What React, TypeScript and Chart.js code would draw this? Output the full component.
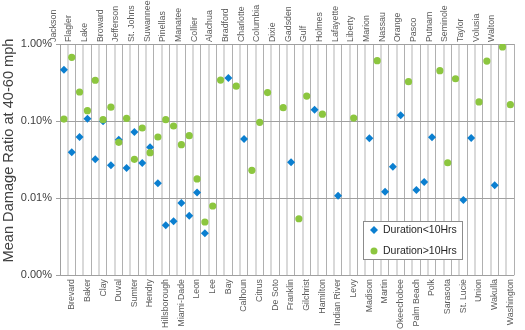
import React, { useEffect, useRef } from "react";
import { Chart, registerables } from "chart.js";

Chart.register(...registerables);

const counties = [
  "Jackson", "Brevard", "Flagler", "Baker", "Lake", "Clay", "Broward", "Duval",
  "Jefferson", "Sumter", "St. Johns", "Hendry", "Suwannee", "Hillsborough",
  "Pinellas", "Miami-Dade", "Manatee", "Leon", "Collier", "Lee", "Alachua", "Bay",
  "Bradford", "Calhoun", "Charlotte", "Citrus", "Columbia", "De Soto", "Dixie",
  "Franklin", "Gadsden", "Gilchrist", "Gulf", "Hamilton", "Holmes", "Indian River",
  "Lafayette", "Levy", "Liberty", "Madison", "Marion", "Martin", "Nassau",
  "Okeechobee", "Orange", "Palm Beach", "Pasco", "Polk", "Putnam", "Sarasota",
  "Seminole", "St. Lucie", "Taylor", "Union", "Volusia", "Wakulla", "Walton",
  "Washington",
];

// Mean damage ratio, in percent
const under10Hrs: (number | null)[] = [
  0.463, 0.0392, 0.062, 0.107, 0.0318, 0.0991, 0.0266, 0.0571,
  0.0245, 0.072, 0.0285, 0.0455, 0.0155, 0.00442,
  0.00498, 0.00861, 0.00589, 0.0118, 0.00349, null, null, 0.361,
  null, 0.0584, null, null, null, null, null,
  0.0291, null, null, 0.14, null, null, 0.0107,
  null, null, null, 0.0596, null, 0.0121, 0.0255,
  0.119, null, 0.0127, 0.0161, 0.0614, null, null,
  null, 0.00942, 0.0601, null, null, 0.0146, null,
  null,
];

const over10Hrs: (number | null)[] = [
  0.106, 0.671, 0.238, 0.136, 0.338, 0.104, 0.151, 0.0529,
  0.108, 0.0318, 0.0811, 0.0388, 0.062, 0.104,
  0.0861, 0.0492, 0.0644, 0.0177, 0.00488, 0.00787, 0.34, null,
  0.283, null, 0.0229, 0.0962, 0.234, null, 0.149,
  null, 0.00538, 0.211, null, 0.1225, null, null,
  null, 0.109, null, null, 0.607, null, null,
  null, 0.324, null, null, null, 0.45, 0.0287,
  0.354, null, null, 0.177, 0.601, null, 0.914,
  0.163,
];

const yTicks = [0.001, 0.01, 0.1, 1];
const seriesNames = ["Duration<10Hrs", "Duration>10Hrs"];
const yTitle = "Mean Damage Ratio at 40-60 mph";
const BLUE = "#0b7fd0";
const GREEN = "#8cc63f";
const FONT = "'Liberation Sans', Arial, sans-serif";

const boxLegend = {
  id: "boxLegend",
  afterDraw(chart: any) {
    const { ctx, chartArea } = chart;
    // y-axis title
    ctx.save();
    ctx.translate(9, 150.5);
    ctx.rotate(-Math.PI / 2);
    ctx.font = `14.6px ${FONT}`;
    ctx.fillStyle = "#404040";
    ctx.textAlign = "center";
    ctx.textBaseline = "middle";
    ctx.fillText(yTitle, 0, 0);
    ctx.restore();

    // legend box inside the plot
    const x = chartArea.left + 303;
    const y = chartArea.top + 177;
    const w = 99;
    const h = 38;
    ctx.save();
    ctx.fillStyle = "#ffffff";
    ctx.fillRect(x, y, w, h);
    ctx.strokeStyle = "#8c8c8c";
    ctx.lineWidth = 1;
    ctx.strokeRect(x + 0.5, y + 0.5, w, h);
    ctx.font = `10.5px ${FONT}`;
    ctx.textBaseline = "middle";
    ctx.textAlign = "left";
    seriesNames.forEach((name, k) => {
      const cy = y + 9 + k * 21;
      const cx = x + 11;
      if (k === 0) {
        ctx.fillStyle = BLUE;
        ctx.beginPath();
        ctx.moveTo(cx, cy - 4);
        ctx.lineTo(cx + 4, cy);
        ctx.lineTo(cx, cy + 4);
        ctx.lineTo(cx - 4, cy);
        ctx.closePath();
        ctx.fill();
      } else {
        ctx.fillStyle = GREEN;
        ctx.beginPath();
        ctx.arc(cx, cy, 3.5, 0, Math.PI * 2);
        ctx.fill();
      }
      ctx.fillStyle = "#262626";
      ctx.fillText(name, x + 20, cy + 0.5);
    });
    ctx.restore();
  },
};

export default function App() {
  const ref = useRef<HTMLCanvasElement | null>(null);

  useEffect(() => {
    if (!ref.current) return;
    const chart = new Chart(ref.current, {
      type: "line",
      data: {
        labels: counties,
        datasets: [
          {
            label: seriesNames[0],
            data: under10Hrs,
            showLine: false,
            pointStyle: "rectRot",
            pointRadius: 4,
            backgroundColor: BLUE,
            borderColor: BLUE,
            borderWidth: 0,
            order: 1,
            xAxisID: "x",
          },
          {
            label: seriesNames[1],
            data: over10Hrs,
            showLine: false,
            pointStyle: "circle",
            pointRadius: 3.6,
            backgroundColor: GREEN,
            borderColor: GREEN,
            borderWidth: 0,
            order: 0,
            xAxisID: "x",
          },
        ],
      },
      options: {
        responsive: false,
        animation: false,
        devicePixelRatio: 1,
        layout: { padding: { left: 0, right: 2, top: 0, bottom: 0 } },
        plugins: {
          legend: { display: false },
          tooltip: { enabled: false },
        },
        scales: {
          x: {
            type: "category",
            position: "top",
            offset: true,
            border: { display: false },
            grid: {
              offset: true,
              drawTicks: false,
              color: (c: any) => {
                const i = c.index ?? counties.length;
                return i % 2 === 0 ? "#b0b0b0" : "#d9d9d9";
              },
              lineWidth: (c: any) => {
                const i = c.index ?? counties.length;
                return i % 2 === 0 ? 1 : 2;
              },
            },
            ticks: {
              autoSkip: false,
              minRotation: 90,
              maxRotation: 90,
              padding: 2,
              color: "#595959",
              font: { family: FONT, size: 8.8 },
              callback: (v: any) => (Number(v) % 2 === 0 ? counties[Number(v)] : ""),
            },
            afterFit: (s: any) => {
              s.height = 44;
            },
          },
          x2: {
            type: "category",
            position: "bottom",
            offset: true,
            border: { display: false },
            grid: { display: false, drawTicks: false },
            ticks: {
              autoSkip: false,
              minRotation: 90,
              maxRotation: 90,
              padding: 4,
              color: "#595959",
              font: { family: FONT, size: 8.8 },
              callback: (v: any) => (Number(v) % 2 === 1 ? counties[Number(v)] : ""),
            },
            afterFit: (s: any) => {
              s.height = 55;
            },
          },
          y: {
            type: "logarithmic",
            min: 0.001,
            max: 1,
            border: { display: true, color: "#a0a0a0" },
            grid: { color: "#a0a0a0", tickLength: 4 },
            afterBuildTicks: (s: any) => {
              s.ticks = yTicks.map((v) => ({ value: v }));
            },
            ticks: {
              padding: 4,
              color: "#404040",
              font: { family: FONT, size: 11 },
              callback: (v: any) => Number(v).toFixed(2) + "%",
            },
            title: { display: false },
            afterFit: (s: any) => {
              s.width = 60;
            },
          },
        },
      },
      plugins: [boxLegend],
    } as any);
    return () => chart.destroy();
  }, []);

  return (
    <div style={{ position: "absolute", left: 0, top: 0, width: 525, height: 330 }}>
      <canvas ref={ref} width={525} height={330} style={{ display: "block" }} />
    </div>
  );
}
